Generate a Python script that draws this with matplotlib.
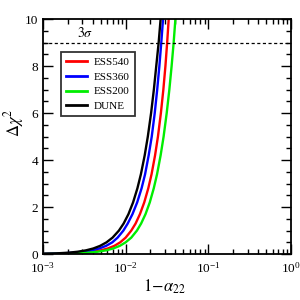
"""Delta chi^2 versus 1 - alpha_22 for ESS and DUNE setups."""

import matplotlib
matplotlib.use("Agg")
import matplotlib.pyplot as plt
from matplotlib.ticker import LogLocator, MultipleLocator, NullFormatter

plt.rcParams["font.family"] = ["Liberation Serif", "DejaVu Serif"]
plt.rcParams["mathtext.fontset"] = "stix"

# values (x = 1 - alpha_22, y = delta chi^2)
chi2_levels = [0.004, 0.01, 0.03, 0.06, 0.1, 0.16, 0.24, 0.35, 0.5, 0.7, 1.0, 1.3, 1.7,
               2.2, 2.8, 3.4, 4.2, 5.0, 6.0, 7.0, 8.0, 9.0, 10.0, 11.0]

x_ess540 = [0.00079, 0.00125, 0.00216, 0.00306, 0.00395, 0.0050, 0.0061, 0.0073, 0.0086, 0.0100,
            0.0117, 0.0132, 0.0149, 0.0168, 0.0188, 0.0206, 0.0227, 0.0246, 0.0267, 0.0286,
            0.0303, 0.0318, 0.0332, 0.0348]
x_ess360 = [0.00062, 0.00098, 0.0017, 0.0024, 0.0031, 0.0039, 0.0048, 0.0058, 0.0069, 0.0080,
            0.0094, 0.0106, 0.0121, 0.0138, 0.0156, 0.0172, 0.0190, 0.0207, 0.0225, 0.0241,
            0.0256, 0.0270, 0.02835, 0.0297]
x_ess200 = [0.00092, 0.00145, 0.0025, 0.00355, 0.00458, 0.0058, 0.0071, 0.0085, 0.0100, 0.0117,
            0.0137, 0.0154, 0.0174, 0.0196, 0.0219, 0.0240, 0.0265, 0.0288, 0.0314, 0.0338,
            0.0360, 0.0381, 0.0400, 0.0419]
x_dune = [0.00052, 0.00083, 0.00144, 0.00203, 0.00262, 0.00332, 0.00407, 0.00491, 0.00587, 0.00695,
          0.0083, 0.00946, 0.01082, 0.01231, 0.01389, 0.01531, 0.01701, 0.01856, 0.02033, 0.02196,
          0.02347, 0.0251, 0.0265, 0.0278]

series = [
    ("ESS540", x_ess540, "#ff0000"),
    ("ESS360", x_ess360, "#0000ff"),
    ("ESS200", x_ess200, "#00ee00"),
    ("DUNE", x_dune, "#000000"),
]

fig = plt.figure(figsize=(3, 3), dpi=100)
ax = fig.add_axes([0.143, 0.153, 0.827, 0.783])

for name, xs, col in series:
    ax.plot(xs, chi2_levels, color=col, lw=1.7, label=name)

ax.axhline(9.0, color="black", lw=0.9, ls=(0, (2.5, 2)))
ax.text(0.0026, 9.1, r"$3\sigma$", fontsize=10, ha="left", va="bottom")

ax.set_xscale("log")
ax.set_xlim(1e-3, 1.0)
ax.set_ylim(0, 10)

ax.xaxis.set_major_locator(LogLocator(base=10, numticks=10))
ax.xaxis.set_minor_locator(LogLocator(base=10, subs=range(2, 10), numticks=10))
ax.xaxis.set_minor_formatter(NullFormatter())
ax.yaxis.set_major_locator(MultipleLocator(2))
ax.yaxis.set_minor_locator(MultipleLocator(0.5))

ax.tick_params(which="both", direction="in", top=True, right=True, labelsize=9.5, width=1.0)
ax.tick_params(which="major", length=7)
ax.tick_params(which="minor", length=3.5)
ax.tick_params(axis="x", pad=5)
for sp in ax.spines.values():
    sp.set_linewidth(1.3)

fig.text(0.55, 0.043, r"$1\!-\!\alpha_{22}$", fontsize=12, ha="center", va="center")
fig.text(0.045, 0.59, r"$\Delta\chi^2$", fontsize=12, ha="center", va="center", rotation=90)

leg = ax.legend(loc="upper left", bbox_to_anchor=(0.073, 0.86), fontsize=8,
                frameon=True, fancybox=False, handlelength=1.9, handletextpad=0.6,
                borderpad=0.45, labelspacing=0.45, borderaxespad=0)
leg.get_frame().set_edgecolor("black")
leg.get_frame().set_linewidth(1.3)
for line in leg.get_lines():
    line.set_linewidth(2.0)

fig.savefig("out.png", dpi=100)
